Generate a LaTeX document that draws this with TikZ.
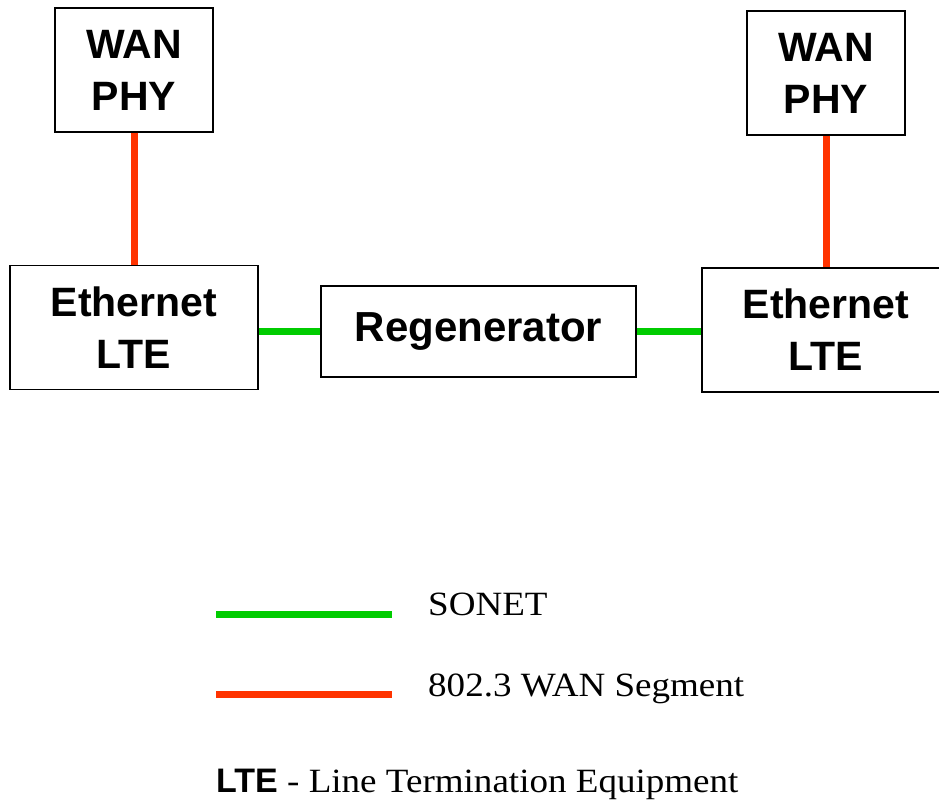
\documentclass[tikz,border=0pt]{standalone}
\usepackage{fontspec}
\setmainfont{Liberation Serif}
\setsansfont{Liberation Sans}
\newfontfamily\legendfont[FakeStretch=1.09]{Liberation Serif}
\definecolor{sonetgreen}{RGB}{0,204,0}
\definecolor{wanred}{RGB}{255,51,0}
\begin{document}
\begin{tikzpicture}[x=1pt,y=-1pt,
  box/.style={draw=black,line width=1.5pt,fill=white,align=center,inner sep=0pt,
    font=\sffamily\bfseries\fontsize{41}{52}\selectfont},
  sonet/.style={draw=sonetgreen,line width=7pt},
  wan/.style={draw=wanred,line width=7pt},
  legtext/.style={anchor=base west,inner sep=0pt,font=\legendfont\fontsize{34}{40}\selectfont}]
\useasboundingbox (0,0) rectangle (939,802);
\clip (0,0) rectangle (939,802);
% boxes
\node[box,minimum width=158pt,minimum height=124pt] (wl) at (134,70) {WAN\\PHY};
\node[box,minimum width=248pt,minimum height=124pt] (el) at (134,327.5) {Ethernet\\LTE};
\node[box,minimum width=315pt,minimum height=91pt,font=\sffamily\bfseries\fontsize{42}{52}\selectfont] (reg) at (478.5,331.5) {Regenerator};
\node[box,minimum width=158pt,minimum height=124pt] (wr) at (826,73) {WAN\\PHY};
\node[box,minimum width=248pt,minimum height=124pt] (er) at (826,330) {Ethernet\\LTE};
% connectors
\draw[wan] (wl.south) -- (el.north);
\draw[wan] (wr.south) -- (er.north);
\draw[sonet] (el.east |- reg.center) -- (reg.west);
\draw[sonet] (reg.east) -- (er.west |- reg.center);
% legend
\coordinate (g1) at (216,614);
\coordinate (g2) at (392,614);
\coordinate (r1) at (216,694);
\coordinate (r2) at (392,694);
\draw[sonet] (g1) -- (g2);
\draw[wan] (r1) -- (r2);
\node[legtext] (tsonet) at (428,615) {SONET};
\node[legtext] (twan) at (428,696) {802.3 WAN Segment};
\node[legtext] (tlte) at (216,792) {{\sffamily\bfseries LTE} - Line Termination Equipment};
\end{tikzpicture}
\end{document}
